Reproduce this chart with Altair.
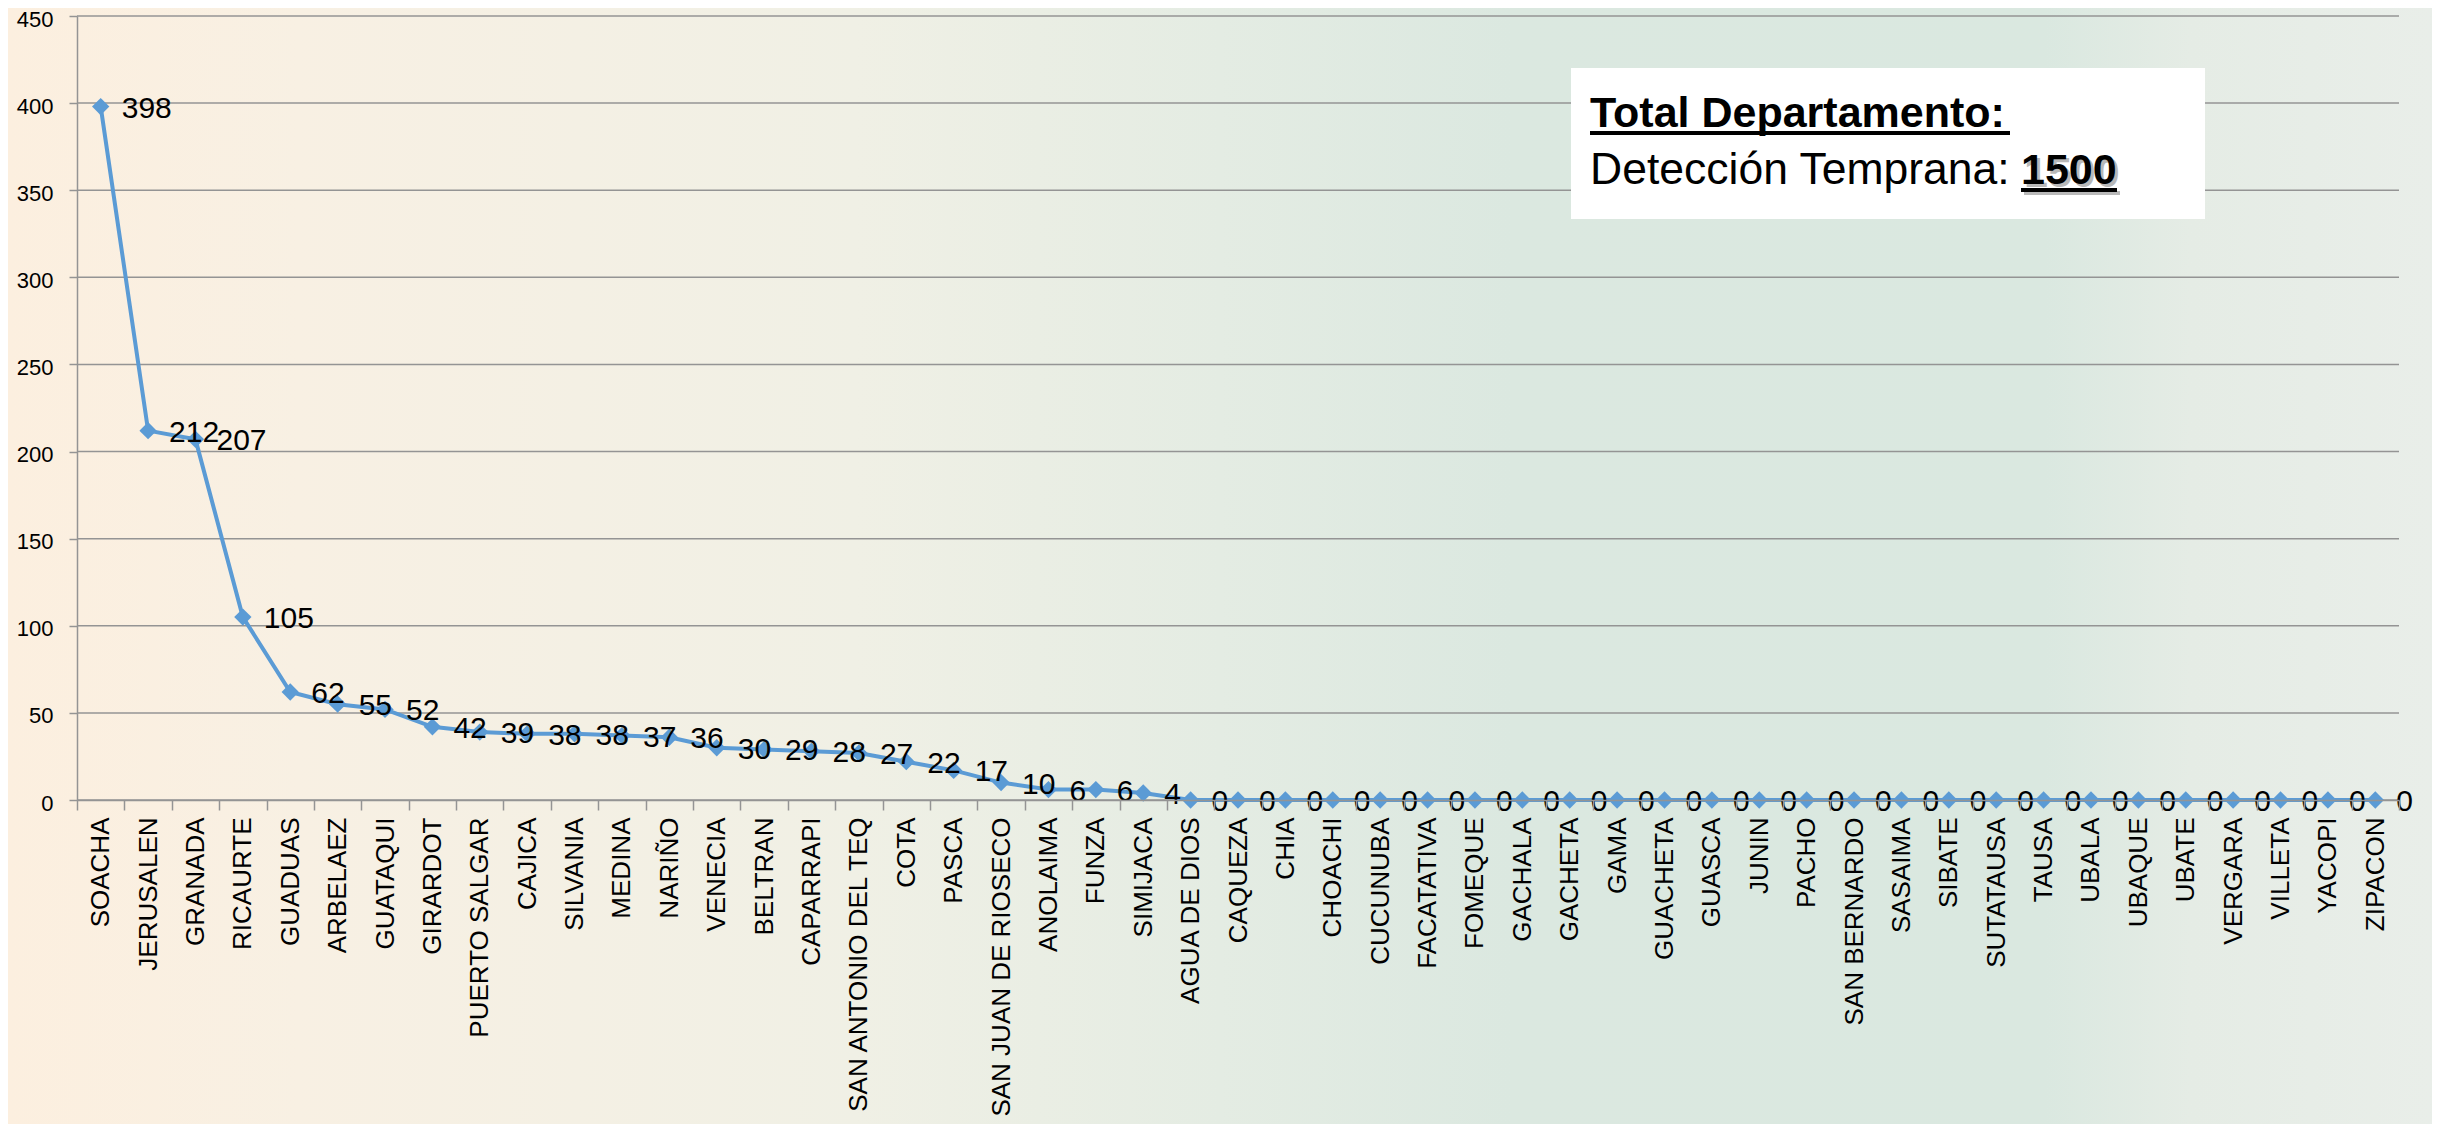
import altair as alt
import pandas as pd

municipios = [
    "SOACHA", "JERUSALEN", "GRANADA", "RICAURTE", "GUADUAS", "ARBELAEZ",
    "GUATAQUI", "GIRARDOT", "PUERTO SALGAR", "CAJICA", "SILVANIA", "MEDINA",
    "NARIÑO", "VENECIA", "BELTRAN", "CAPARRAPI", "SAN ANTONIO DEL TEQ", "COTA",
    "PASCA", "SAN JUAN DE RIOSECO", "ANOLAIMA", "FUNZA", "SIMIJACA",
    "AGUA DE DIOS", "CAQUEZA", "CHIA", "CHOACHI", "CUCUNUBA", "FACATATIVA",
    "FOMEQUE", "GACHALA", "GACHETA", "GAMA", "GUACHETA", "GUASCA", "JUNIN",
    "PACHO", "SAN BERNARDO", "SASAIMA", "SIBATE", "SUTATAUSA", "TAUSA",
    "UBALA", "UBAQUE", "UBATE", "VERGARA", "VILLETA", "YACOPI", "ZIPACON",
]
valores = [
    398, 212, 207, 105, 62, 55, 52, 42, 39, 38, 38, 37, 36, 30, 29, 28, 27,
    22, 17, 10, 6, 6, 4,
    0, 0, 0, 0, 0, 0, 0, 0, 0, 0, 0, 0, 0, 0, 0, 0, 0, 0, 0, 0, 0, 0, 0, 0, 0, 0,
]
y_ticks = [0, 50, 100, 150, 200, 250, 300, 350, 400, 450]

box_title = "Total Departamento:"
box_label = "Detección Temprana: "
box_total = "1500"

W, H = 2322, 784
NARROW = "Liberation Sans Narrow, Arial Narrow, Liberation Sans, sans-serif"
SANS = "Liberation Sans, Arial, sans-serif"
LINE_COLOR = "#5b9bd5"
GRID = "#949494"

df = pd.DataFrame({"municipio": municipios, "valor": valores})
grid_df = pd.DataFrame({"v": y_ticks})
one = pd.DataFrame({"k": [0]})

xenc = alt.X(
    "municipio:N", sort=None, title=None,
    scale=alt.Scale(type="band", paddingInner=0, paddingOuter=0),
    axis=alt.Axis(
        labelAngle=-90, labelFont=NARROW, labelFontSize=26, labelColor="#000000",
        labelPadding=7, labelLimit=500, labelOverlap=False, tickBand="extent",
        tickSize=10, tickColor=GRID, tickWidth=1.5, domainColor=GRID,
        domainWidth=1.5, grid=False, zindex=1,
    ),
)
yenc = alt.Y(
    "valor:Q", title=None,
    scale=alt.Scale(domain=[0, 450], nice=False),
    axis=alt.Axis(
        values=y_ticks, labelFont=SANS, labelFontSize=22, labelColor="#000000",
        labelPadding=16, labelOffset=3, tickSize=8, tickColor=GRID, tickWidth=1.5,
        domainColor=GRID, domainWidth=1.5, grid=False, zindex=1,
    ),
)

bg = alt.Chart(one).mark_rect(
    color=alt.Gradient(
        gradient="linear", x1=0, x2=1, y1=0, y2=0,
        stops=[
            alt.GradientStop(color="#fcefdf", offset=0),
            alt.GradientStop(color="#f8f0e3", offset=0.12),
            alt.GradientStop(color="#f0f0e5", offset=0.35),
            alt.GradientStop(color="#e4ece3", offset=0.5),
            alt.GradientStop(color="#dbe8e0", offset=0.62),
            alt.GradientStop(color="#dae8e0", offset=0.84),
            alt.GradientStop(color="#e5ece5", offset=0.9),
            alt.GradientStop(color="#e9eee9", offset=1),
        ],
    )
).encode(x=alt.value(-69), x2=alt.value(W + 33), y=alt.value(-8), y2=alt.value(H + 330))

gridlines = alt.Chart(grid_df).mark_rule(color=GRID, strokeWidth=1.5).encode(
    y=alt.Y("v:Q"), x=alt.value(0), x2=alt.value(W)
)

base = alt.Chart(df)
line = base.mark_line(color=LINE_COLOR, strokeWidth=4).encode(x=xenc, y=yenc)
pts = base.mark_point(shape="diamond", filled=True, size=300, color=LINE_COLOR, opacity=1).encode(
    x=alt.X("municipio:N", sort=None), y="valor:Q"
)
labels = base.mark_text(
    align="left", baseline="middle", dx=21, dy=2, font=SANS, fontSize=30, color="#000000"
).encode(x=alt.X("municipio:N", sort=None), y="valor:Q", text="valor:Q")

box = alt.Chart(one).mark_rect(color="#ffffff").encode(
    x=alt.value(1494), x2=alt.value(2128), y=alt.value(52), y2=alt.value(203)
)
t1 = alt.Chart(one).mark_text(
    text=box_title, align="left", baseline="alphabetic", font=SANS, fontSize=43,
    fontWeight="bold", color="#000000"
).encode(x=alt.value(1513), y=alt.value(111))
u1 = alt.Chart(one).mark_rule(color="#000000", strokeWidth=4).encode(
    x=alt.value(1513), x2=alt.value(1933), y=alt.value(117)
)
t2 = alt.Chart(one).mark_text(
    text=box_label, align="left", baseline="alphabetic", font=SANS, fontSize=44.5,
    color="#000000"
).encode(x=alt.value(1513), y=alt.value(168))
t3s = alt.Chart(one).mark_text(
    text=box_total, align="left", baseline="alphabetic", font=SANS, fontSize=43,
    fontWeight="bold", color="#7f7f7f", opacity=0.55
).encode(x=alt.value(1947), y=alt.value(171))
u2s = alt.Chart(one).mark_rule(color="#7f7f7f", strokeWidth=4, opacity=0.55).encode(
    x=alt.value(1947), x2=alt.value(2043), y=alt.value(177)
)
t3 = alt.Chart(one).mark_text(
    text=box_total, align="left", baseline="alphabetic", font=SANS, fontSize=43,
    fontWeight="bold", color="#000000"
).encode(x=alt.value(1944), y=alt.value(168))
u2 = alt.Chart(one).mark_rule(color="#000000", strokeWidth=4).encode(
    x=alt.value(1944), x2=alt.value(2040), y=alt.value(174)
)

chart = alt.layer(bg, gridlines, line, pts, labels, box, t1, u1, t2, t3s, u2s, t3, u2).properties(
    width=W, height=H,
    autosize=alt.AutoSizeParams(type="none"),
    padding={"left": 69, "top": 8, "right": 33, "bottom": 324},
).configure_view(stroke=None).configure(background="#eeeee4")

chart.save("out.html", embed_options={"renderer": "svg", "actions": False})
